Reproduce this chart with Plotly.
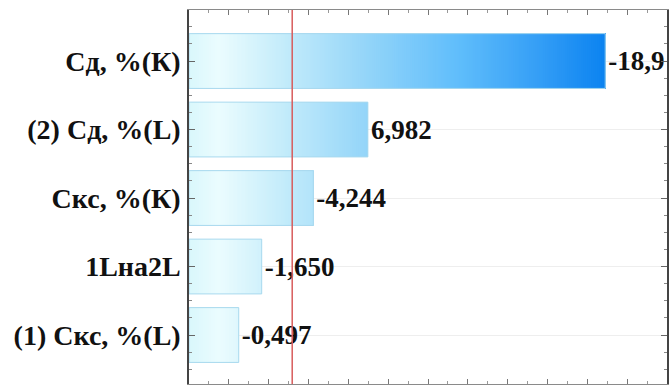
import plotly.graph_objects as go

# ---- data ----
categories = ["Сд, %(К)", "(2) Сд, %(L)", "Скс, %(К)", "1Lна2L", "(1) Скс, %(L)"]
effects = [-18.9, 6.982, -4.244, -1.650, -0.497]
labels = ["-18,9", "6,982", "-4,244", "-1,650", "-0,497"]
critical_t = 3.182
x_min, x_max = -2.0, 22.0

# gradient stops (value on x axis -> colour)
grad_vals = [-2.0, -0.5, 3.05, 7.07, 11.6, 15.6, 19.0, 22.0]
grad_cols = ["#d9f7fc", "#ebfcfe", "#c0eafa", "#92d4f9", "#5fbdfb", "#349ef6", "#0a82f0", "#0070e0"]


def hex2rgb(h):
    h = h.lstrip("#")
    return [int(h[i:i + 2], 16) for i in (0, 2, 4)]


def grad(v):
    for i in range(len(grad_vals) - 1):
        if grad_vals[i] <= v <= grad_vals[i + 1]:
            t = (v - grad_vals[i]) / (grad_vals[i + 1] - grad_vals[i])
            a, b = hex2rgb(grad_cols[i]), hex2rgb(grad_cols[i + 1])
            c = [round(a[k] + (b[k] - a[k]) * t) for k in range(3)]
            return "rgb(%d,%d,%d)" % tuple(c)
    return grad_cols[-1]


ypos = list(range(len(categories)))
mags = [abs(e) for e in effects]

# gradient segments: each segment covers from its start to the bar end (drawn left to right)
step = 0.1
seg_y, seg_base, seg_len, seg_col = [], [], [], []
for y, m in zip(ypos, mags):
    s = x_min
    while s < m:
        seg_y.append(y)
        seg_base.append(s)
        seg_len.append(m - s)
        seg_col.append(grad(s + step / 2))
        s += step

fig = go.Figure()
fig.add_trace(go.Bar(
    y=seg_y, x=seg_len, base=seg_base, orientation="h", width=0.8,
    marker=dict(color=seg_col, line=dict(width=0)),
    hoverinfo="skip", showlegend=False,
))
fig.add_trace(go.Bar(
    y=ypos, x=[m - x_min for m in mags], base=[x_min] * len(mags), orientation="h", width=0.8,
    marker=dict(color="rgba(0,0,0,0)", line=dict(color="#a9d9ee", width=1)),
    text=labels, textposition="outside", constraintext="none",
    textfont=dict(family="Liberation Serif", size=27, color="#111111", weight="bold"),
    cliponaxis=False, showlegend=False,
))

fig.add_shape(type="line", x0=critical_t, x1=critical_t, y0=0, y1=1, xref="x", yref="paper",
              line=dict(color="#d85c5c", width=1.5))

fig.update_layout(
    width=672, height=385,
    margin=dict(l=189, r=5, t=10, b=1),
    barmode="overlay",
    plot_bgcolor="white", paper_bgcolor="white",
    showlegend=False,
)
fig.update_xaxes(
    range=[x_min, x_max], showgrid=False, zeroline=False, showticklabels=False,
    showline=True, linecolor="#8a8a8a", linewidth=1, mirror="ticks",
    ticks="inside", ticklen=5, tickcolor="#777777", dtick=2, tick0=0,
    minor=dict(ticks="inside", ticklen=3, dtick=1, tickcolor="#999999"),
    automargin=False,
)
fig.update_yaxes(
    range=[4.715, -0.745], tickvals=ypos, ticktext=categories,
    tickfont=dict(family="Liberation Serif", size=28, color="#111111", weight="bold"),
    showgrid=True, gridcolor="#eeeeee", gridwidth=1, zeroline=False,
    showline=True, linecolor="#444444", linewidth=1.5, mirror="ticks",
    ticks="inside", ticklen=6, tickcolor="#666666",
    minor=dict(ticks="inside", ticklen=3, dtick=0.25, tick0=0, tickcolor="#888888", showgrid=False),
    ticklabelstandoff=1, automargin=False,
)

fig.write_html("out.html")
